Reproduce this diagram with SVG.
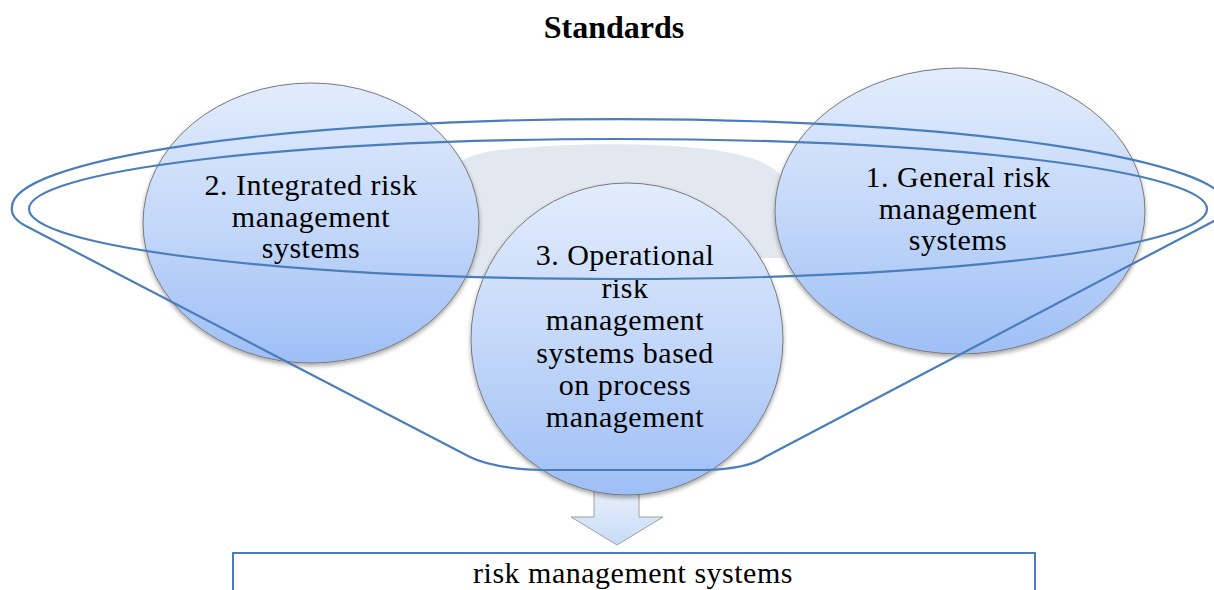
<svg xmlns="http://www.w3.org/2000/svg" width="1214" height="590" viewBox="0 0 1214 590">
<defs>
<linearGradient id="gBall" x1="0" y1="0" x2="0" y2="1">
<stop offset="0" stop-color="#e2ecfd"/>
<stop offset="0.5" stop-color="#c4d8f9"/>
<stop offset="1" stop-color="#9ebff6"/>
</linearGradient>
<linearGradient id="gArrow" x1="0" y1="0" x2="0" y2="1">
<stop offset="0" stop-color="#eef3fc"/>
<stop offset="1" stop-color="#c7dbf7"/>
</linearGradient>
<filter id="shadow" x="-10%" y="-10%" width="120%" height="125%">
<feDropShadow dx="0" dy="2.5" stdDeviation="2" flood-color="#000" flood-opacity="0.35"/>
</filter>
<style>
.ball{fill:url(#gBall);stroke:#7a7a7a;stroke-width:1;filter:url(#shadow)}
.lbl{font-family:"Liberation Serif","Times New Roman",serif;font-size:30px;letter-spacing:0.5px;fill:#000;text-anchor:middle}
.loop{fill:none;stroke:#4a7ebb;stroke-width:2.2}
</style>
</defs>
<rect width="1214" height="590" fill="#fff"/>
<text x="614" y="38" font-family="Liberation Serif, Times New Roman, serif" font-size="32" font-weight="bold" text-anchor="middle">Standards</text>
<path id="band" d="M 430,277 C 428,180 445,156 500,150 C 560,143 680,140 740,155 C 790,166 808,200 808,258 L 745,258 C 725,215 530,215 490,277 Z" fill="#e3e8f0"/>
<g id="node2">
<ellipse class="ball" cx="311" cy="223" rx="168" ry="140"/>
<text class="lbl"><tspan x="311" y="195">2. Integrated risk</tspan><tspan x="311" y="227">management</tspan><tspan x="311" y="258">systems</tspan></text>
</g>
<g id="node1">
<ellipse class="ball" cx="960" cy="211" rx="185" ry="143"/>
<text class="lbl"><tspan x="958" y="187">1. General risk</tspan><tspan x="958" y="219">management</tspan><tspan x="958" y="250">systems</tspan></text>
</g>
<g id="arrow">
<path d="M 594,480 L 639,480 L 639,517 L 663,517 L 617,545 L 571,517 L 594,517 Z" fill="url(#gArrow)" stroke="#a0a0a0" stroke-width="1"/>
</g>
<g id="node3">
<ellipse class="ball" cx="627" cy="339" rx="156" ry="156"/>
<text class="lbl"><tspan x="625" y="265">3. Operational</tspan><tspan x="625" y="298">risk</tspan><tspan x="625" y="330">management</tspan><tspan x="625" y="363">systems based</tspan><tspan x="625" y="395">on process</tspan><tspan x="625" y="427">management</tspan></text>
</g>
<g id="connectors">
<ellipse class="loop" cx="618" cy="209" rx="589" ry="70"/>
<path class="loop" d="M 12,207 A 608 88 0 0 1 1228,207 Q 1228,214 1214,221 L 765,457 Q 748,469 705,470 L 540,470 Q 492,468 470,457 L 24,225 Q 10,217 12,207 Z"/>
</g>
<g id="result">
<rect x="233" y="553" width="802" height="60" fill="#fff" stroke="#4a7ebb" stroke-width="2"/>
<text class="lbl" x="633" y="583">risk management systems</text>
</g>
</svg>
